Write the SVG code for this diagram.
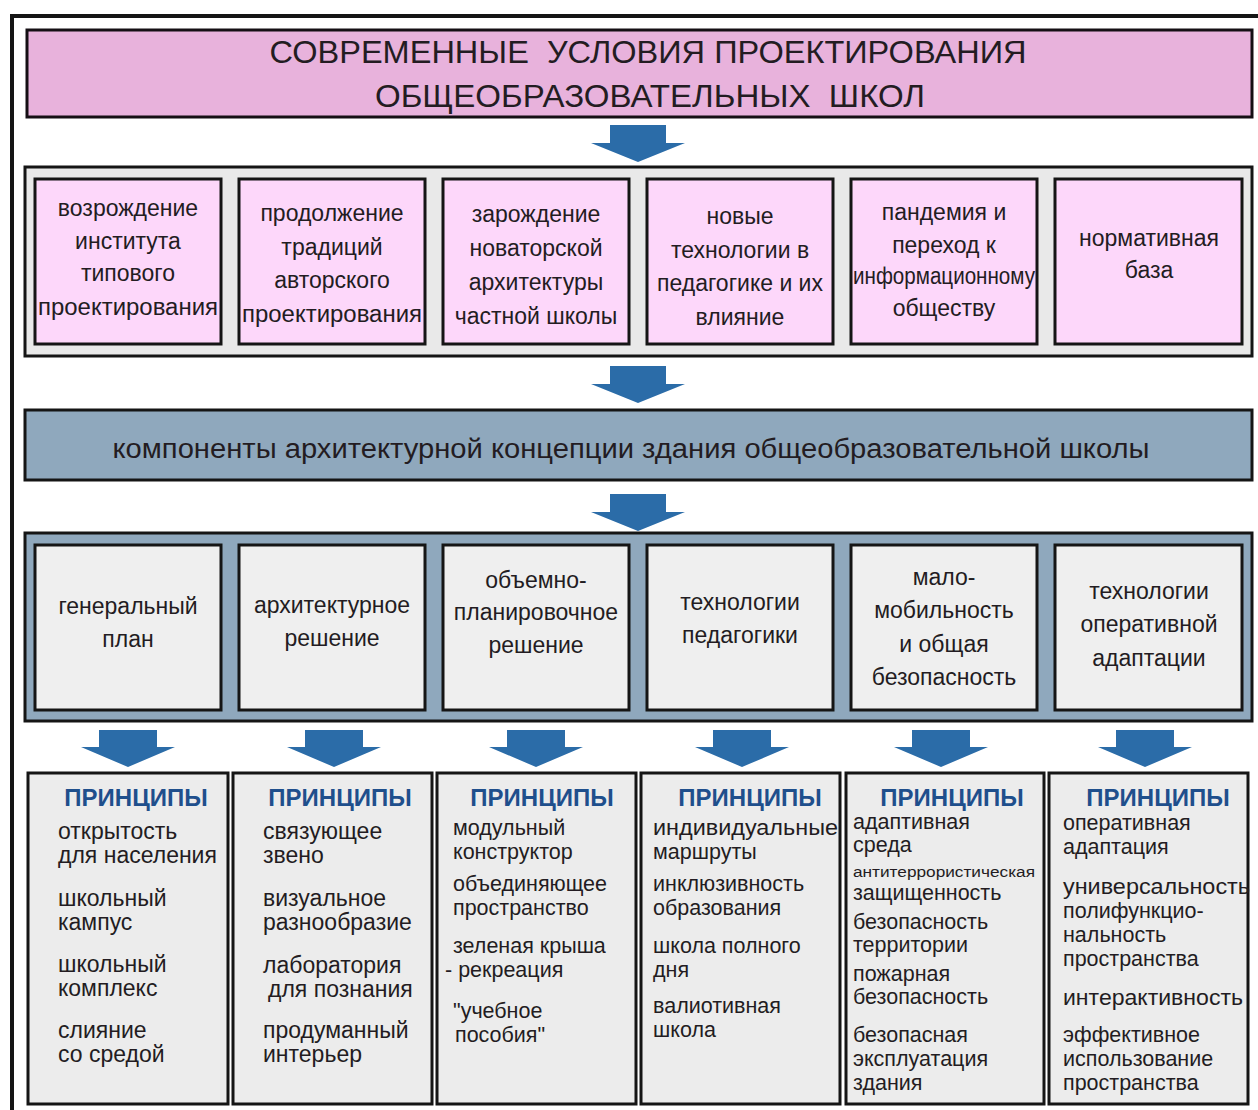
<svg xmlns="http://www.w3.org/2000/svg" width="1258" height="1110" viewBox="0 0 1258 1110">
<style>
  text { font-family: "Liberation Sans", Arial, sans-serif; fill: #231c22; }
  .title { font-size: 32px; text-anchor: middle; white-space: pre; }
  .c { font-size: 23px; text-anchor: middle; }
  .l { font-size: 23px; }
  .t { font-size: 21.5px; }
  .band { font-size: 27px; text-anchor: middle; }
  .hd { font-size: 24px; font-weight: bold; fill: #1f4f8c; text-anchor: middle; }
  .sm { font-size: 14px; }
  .frame { fill: #ffffff; stroke: #151515; stroke-width: 4; }
  .titlebox { fill: #e8b2dc; stroke: #150f14; stroke-width: 3; }
  .row1 { fill: #e9e9e9; stroke: #151515; stroke-width: 3; }
  .pink { fill: #fdd7fa; stroke: #151515; stroke-width: 3; }
  .blue { fill: #8fa8bd; stroke: #151515; stroke-width: 3; }
  .grey { fill: #efefef; stroke: #151515; stroke-width: 3; }
  .prin { fill: #ececec; stroke: #151515; stroke-width: 3; }
  .arrow { fill: #2b6ca8; }
</style>
<rect class="frame" x="12" y="16" width="1270" height="1110"/>

<g id="title">
  <rect class="titlebox" x="27" y="30" width="1225" height="87"/>
  <text class="title" x="648" y="63" textLength="757" lengthAdjust="spacingAndGlyphs">СОВРЕМЕННЫЕ  УСЛОВИЯ ПРОЕКТИРОВАНИЯ</text>
  <text class="title" x="650" y="107" textLength="550" lengthAdjust="spacingAndGlyphs">ОБЩЕОБРАЗОВАТЕЛЬНЫХ  ШКОЛ</text>
</g>

<g id="conditions">
  <rect class="row1" x="25" y="167" width="1227" height="189"/>
  <g id="cond1">
    <rect class="pink" x="35" y="179" width="186" height="165"/>
    <text class="c" x="128" y="216">возрождение</text>
    <text class="c" x="128" y="249">института</text>
    <text class="c" x="128" y="281">типового</text>
    <text class="c" x="128" y="315" textLength="180" lengthAdjust="spacingAndGlyphs">проектирования</text>
  </g>
  <g id="cond2">
    <rect class="pink" x="239" y="179" width="186" height="165"/>
    <text class="c" x="332" y="221">продолжение</text>
    <text class="c" x="332" y="255">традиций</text>
    <text class="c" x="332" y="288">авторского</text>
    <text class="c" x="332" y="322" textLength="180" lengthAdjust="spacingAndGlyphs">проектирования</text>
  </g>
  <g id="cond3">
    <rect class="pink" x="443" y="179" width="186" height="165"/>
    <text class="c" x="536" y="222">зарождение</text>
    <text class="c" x="536" y="256">новаторской</text>
    <text class="c" x="536" y="290">архитектуры</text>
    <text class="c" x="536" y="324">частной школы</text>
  </g>
  <g id="cond4">
    <rect class="pink" x="647" y="179" width="186" height="165"/>
    <text class="c" x="740" y="224">новые</text>
    <text class="c" x="740" y="258">технологии в</text>
    <text class="c" x="740" y="291">педагогике и их</text>
    <text class="c" x="740" y="325">влияние</text>
  </g>
  <g id="cond5">
    <rect class="pink" x="851" y="179" width="186" height="165"/>
    <text class="c" x="944" y="220">пандемия  и</text>
    <text class="c" x="944" y="253">переход к</text>
    <text class="c" x="944" y="284" textLength="182" lengthAdjust="spacingAndGlyphs">информационному</text>
    <text class="c" x="944" y="316">обществу</text>
  </g>
  <g id="cond6">
    <rect class="pink" x="1055" y="179" width="187" height="165"/>
    <text class="c" x="1149" y="246">нормативная</text>
    <text class="c" x="1149" y="278">база</text>
  </g>
</g>

<g id="components-band">
  <rect class="blue" x="25" y="410" width="1227" height="70"/>
  <text class="band" x="631" y="458" textLength="1037" lengthAdjust="spacingAndGlyphs">компоненты архитектурной концепции здания общеобразовательной школы</text>
</g>

<g id="components">
  <rect class="blue" x="25" y="533" width="1227" height="188"/>
  <g id="comp1">
    <rect class="grey" x="35" y="545" width="186" height="165"/>
    <text class="c" x="128" y="614">генеральный</text>
    <text class="c" x="128" y="647">план</text>
  </g>
  <g id="comp2">
    <rect class="grey" x="239" y="545" width="186" height="165"/>
    <text class="c" x="332" y="613">архитектурное</text>
    <text class="c" x="332" y="646">решение</text>
  </g>
  <g id="comp3">
    <rect class="grey" x="443" y="545" width="186" height="165"/>
    <text class="c" x="536" y="588">объемно-</text>
    <text class="c" x="536" y="620">планировочное</text>
    <text class="c" x="536" y="653">решение</text>
  </g>
  <g id="comp4">
    <rect class="grey" x="647" y="545" width="186" height="165"/>
    <text class="c" x="740" y="610">технологии</text>
    <text class="c" x="740" y="643">педагогики</text>
  </g>
  <g id="comp5">
    <rect class="grey" x="851" y="545" width="186" height="165"/>
    <text class="c" x="944" y="585">мало-</text>
    <text class="c" x="944" y="618">мобильность</text>
    <text class="c" x="944" y="652">и общая</text>
    <text class="c" x="944" y="685">безопасность</text>
  </g>
  <g id="comp6">
    <rect class="grey" x="1055" y="545" width="187" height="165"/>
    <text class="c" x="1149" y="599">технологии</text>
    <text class="c" x="1149" y="632">оперативной</text>
    <text class="c" x="1149" y="666">адаптации</text>
  </g>
</g>

<g id="connectors">
  <path class="arrow" d="M610,125 H666 V143 H685 L638,162 L591,143 H610 Z"/>
  <path class="arrow" d="M610,366 H666 V384 H685 L638,403 L591,384 H610 Z"/>
  <path class="arrow" d="M610,494 H666 V512 H685 L638,531 L591,512 H610 Z"/>
  <path class="arrow" d="M99,730 H157 V747 H175 L128,767 L81,747 H99 Z"/>
  <path class="arrow" d="M305,730 H363 V747 H381 L334,767 L287,747 H305 Z"/>
  <path class="arrow" d="M507,730 H565 V747 H583 L536,767 L489,747 H507 Z"/>
  <path class="arrow" d="M713,730 H771 V747 H789 L742,767 L695,747 H713 Z"/>
  <path class="arrow" d="M912,730 H970 V747 H988 L941,767 L894,747 H912 Z"/>
  <path class="arrow" d="M1116,730 H1174 V747 H1192 L1145,767 L1098,747 H1116 Z"/>
</g>

<g id="principles1">
  <rect class="prin" x="28" y="773" width="200" height="331"/>
  <text class="hd" x="136" y="806">ПРИНЦИПЫ</text>
  <text class="l" x="58" y="839">открытость</text>
  <text class="l" x="58" y="863">для населения</text>
  <text class="l" x="58" y="906">школьный</text>
  <text class="l" x="58" y="930">кампус</text>
  <text class="l" x="58" y="972">школьный</text>
  <text class="l" x="58" y="996">комплекс</text>
  <text class="l" x="58" y="1038">слияние</text>
  <text class="l" x="58" y="1062">со средой</text>
</g>
<g id="principles2">
  <rect class="prin" x="233" y="773" width="199" height="331"/>
  <text class="hd" x="340" y="806">ПРИНЦИПЫ</text>
  <text class="l" x="263" y="839">связующее</text>
  <text class="l" x="263" y="863">звено</text>
  <text class="l" x="263" y="906">визуальное</text>
  <text class="l" x="263" y="930">разнообразие</text>
  <text class="l" x="263" y="973">лаборатория</text>
  <text class="l" x="268" y="997">для познания</text>
  <text class="l" x="263" y="1038">продуманный</text>
  <text class="l" x="263" y="1062">интерьер</text>
</g>
<g id="principles3">
  <rect class="prin" x="437" y="773" width="199" height="331"/>
  <text class="hd" x="542" y="806">ПРИНЦИПЫ</text>
  <text class="l t" x="453" y="835">модульный</text>
  <text class="l t" x="453" y="859">конструктор</text>
  <text class="l t" x="453" y="891">объединяющее</text>
  <text class="l t" x="453" y="915">пространство</text>
  <text class="l t" x="453" y="953">зеленая крыша</text>
  <text class="l t" x="445" y="977">- рекреация</text>
  <text class="l t" x="453" y="1018">"учебное</text>
  <text class="l t" x="455" y="1042">пособия"</text>
</g>
<g id="principles4">
  <rect class="prin" x="641" y="773" width="199" height="331"/>
  <text class="hd" x="750" y="806">ПРИНЦИПЫ</text>
  <text class="l t" x="653" y="835" textLength="185" lengthAdjust="spacingAndGlyphs">индивидуальные</text>
  <text class="l t" x="653" y="859">маршруты</text>
  <text class="l t" x="653" y="891">инклюзивность</text>
  <text class="l t" x="653" y="915">образования</text>
  <text class="l t" x="653" y="953">школа полного</text>
  <text class="l t" x="653" y="977">дня</text>
  <text class="l t" x="653" y="1013">валиотивная</text>
  <text class="l t" x="653" y="1037">школа</text>
</g>
<g id="principles5">
  <rect class="prin" x="846" y="773" width="198" height="331"/>
  <text class="hd" x="952" y="806">ПРИНЦИПЫ</text>
  <text class="l t" x="853" y="829">адаптивная</text>
  <text class="l t" x="853" y="852">среда</text>
  <text class="l sm" x="853" y="877" textLength="182" lengthAdjust="spacingAndGlyphs">антитеррористическая</text>
  <text class="l t" x="853" y="900">защищенность</text>
  <text class="l t" x="853" y="929">безопасность</text>
  <text class="l t" x="853" y="952">территории</text>
  <text class="l t" x="853" y="981">пожарная</text>
  <text class="l t" x="853" y="1004">безопасность</text>
  <text class="l t" x="853" y="1042">безопасная</text>
  <text class="l t" x="853" y="1066">эксплуатация</text>
  <text class="l t" x="853" y="1090">здания</text>
</g>
<g id="principles6">
  <rect class="prin" x="1049" y="773" width="199" height="331"/>
  <text class="hd" x="1158" y="806">ПРИНЦИПЫ</text>
  <text class="l t" x="1063" y="830">оперативная</text>
  <text class="l t" x="1063" y="854">адаптация</text>
  <text class="l t" x="1063" y="894" textLength="187" lengthAdjust="spacingAndGlyphs">универсальность</text>
  <text class="l t" x="1063" y="918">полифункцио-</text>
  <text class="l t" x="1063" y="942">нальность</text>
  <text class="l t" x="1063" y="966">пространства</text>
  <text class="l t" x="1063" y="1005" textLength="180" lengthAdjust="spacingAndGlyphs">интерактивность</text>
  <text class="l t" x="1063" y="1042">эффективное</text>
  <text class="l t" x="1063" y="1066">использование</text>
  <text class="l t" x="1063" y="1090">пространства</text>
</g>
</svg>
